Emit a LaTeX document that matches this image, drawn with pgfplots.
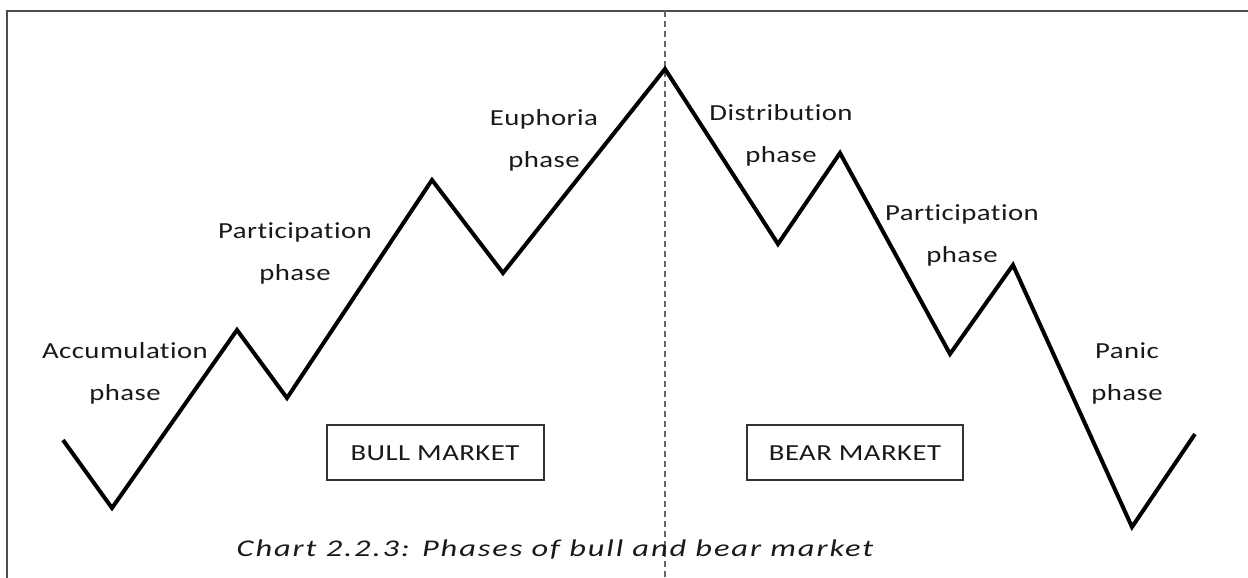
\documentclass[border=0pt]{standalone}
\usepackage{pgfplots}
\pgfplotsset{compat=1.18}
\usepackage{fontspec}
\setmainfont{Carlito}
\newfontfamily\lblfont[FakeStretch=1.25, LetterSpace=2, Ligatures={NoCommon}]{Carlito}
\newfontfamily\capfont[FakeStretch=1.35, LetterSpace=8, Ligatures={NoCommon}]{Carlito}
\tikzset{lbl/.style={font=\lblfont\fontsize{23bp}{26bp}\selectfont, anchor=base, inner sep=0pt, text=black!90}}
\begin{document}
\begin{tikzpicture}
\useasboundingbox (0,0) rectangle (1248bp,578bp);
\begin{axis}[
  at={(0,0)}, anchor=south west,
  scale only axis, width=1248bp, height=578bp,
  xmin=0, xmax=1248, ymin=0, ymax=578, y dir=reverse,
  hide axis, clip=false,
]
% frame
\draw[line width=2bp, color=black!70] (axis cs:7,578) -- (axis cs:7,11) -- (axis cs:1248,11);
% dashed divider
\draw[line width=1.5bp, color=black!60, dash pattern=on 6bp off 4bp] (axis cs:665,11) -- (axis cs:665,578);
% market path
\addplot[line width=4bp, black, line join=miter, mark=none] coordinates {
 (63,440) (112,508) (237,330) (287,398) (432,180) (503,273) (665,69)
 (778,244) (840,153) (950,354) (1013,265) (1132,527) (1195,434)
};
% boxes
\draw[line width=1.3bp, black!80] (axis cs:327,425) rectangle (axis cs:544,480);
\draw[line width=1.3bp, black!80] (axis cs:747,425) rectangle (axis cs:963,480);
\node[lbl] at (axis cs:435,460) {BULL MARKET};
\node[lbl] at (axis cs:855,460) {BEAR MARKET};
% phase labels
\node[lbl] at (axis cs:125,358) {Accumulation};
\node[lbl] at (axis cs:125,400) {phase};
\node[lbl] at (axis cs:295,238) {Participation};
\node[lbl] at (axis cs:295,280) {phase};
\node[lbl] at (axis cs:544,125) {Euphoria};
\node[lbl] at (axis cs:544,167) {phase};
\node[lbl] at (axis cs:781,120) {Distribution};
\node[lbl] at (axis cs:781,162) {phase};
\node[lbl] at (axis cs:962,220) {Participation};
\node[lbl] at (axis cs:962,262) {phase};
\node[lbl] at (axis cs:1127,358) {Panic};
\node[lbl] at (axis cs:1127,400) {phase};
% caption
\node[lbl, font=\capfont\itshape\fontsize{24bp}{26bp}\selectfont] at (axis cs:555,556) {Chart 2.2.3: Phases of bull and bear market};
\end{axis}
\end{tikzpicture}
\end{document}
